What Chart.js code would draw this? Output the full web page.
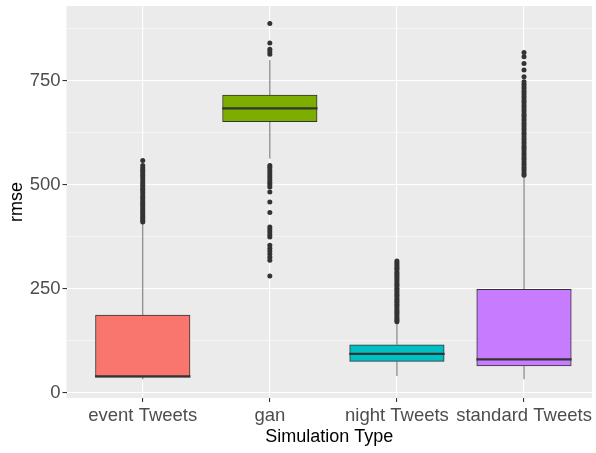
<!DOCTYPE html>
<html>
<head>
<meta charset="utf-8">
<script src="https://cdn.jsdelivr.net/npm/chart.js@4"></script>
<style>
  body { margin: 0; background: #fff; }
</style>
</head>
<body>
<canvas id="rmse-boxplot" width="596" height="453"></canvas>
<script>
const categories = ["event Tweets", "gan", "night Tweets", "standard Tweets"];
const fills = ["#F8766D", "#7CAE00", "#00BFC4", "#C77CFF"];

const q1 = [37, 651, 75, 64];
const medians = [39, 683, 93, 80];
const q3 = [186, 715, 115, 248];
const whiskerLow = [32, 562, 40, 32];
const whiskerHigh = [408, 799, 168, 518];

const eventOutliers = [410, 414, 419, 423, 428, 433, 437, 442, 447, 452, 456, 461, 466, 470, 475, 481,
  486, 490, 495, 500, 505, 511, 516, 521, 526, 531, 535, 540, 546, 558];
const ganOutliers = [887, 840, 825, 819, 813, 546, 541, 535, 529, 523, 517, 511, 505, 500, 494, 482,
  458, 433, 398, 392, 386, 379, 374, 354, 347, 340, 333, 325, 318, 280];
const nightOutliers = [170, 174, 178, 182, 187, 191, 195, 199, 204, 208, 212, 217, 221, 225, 230, 234,
  238, 243, 247, 251, 256, 260, 264, 269, 273, 277, 282, 286, 290, 295, 299, 303, 308, 312, 316];
const standardOutliers = [522, 527, 533, 538, 543, 549, 554, 560, 565, 571, 576, 582, 587, 592, 598,
  603, 609, 614, 620, 625, 631, 636, 642, 647, 653, 658, 664, 669, 675, 680, 686, 691, 697, 702, 708,
  713, 719, 724, 730, 735, 741, 747, 759, 775, 791, 807, 817];
const outliers = [eventOutliers, ganOutliers, nightOutliers, standardOutliers];

const yMajorTicks = [0, 250, 500, 750];
const yMinorTicks = [125, 375, 625, 875];

const HALF_BOX = 0.375;

// segments joined with nulls so the line breaks between them
const medianSegments = [];
const whiskerSegments = [];
categories.forEach((c, i) => {
  const x = i + 1;
  medianSegments.push({ x: x - HALF_BOX, y: medians[i] }, { x: x + HALF_BOX, y: medians[i] }, { x: x, y: null });
  whiskerSegments.push({ x: x, y: whiskerLow[i] }, { x: x, y: q1[i] }, { x: x, y: null });
  whiskerSegments.push({ x: x, y: q3[i] }, { x: x, y: whiskerHigh[i] }, { x: x, y: null });
});

const outlierPoints = [];
outliers.forEach((list, i) => list.forEach((v) => outlierPoints.push({ x: i + 1, y: v })));

const panelBackground = {
  id: "panelBackground",
  beforeDraw(chart) {
    const { ctx, chartArea } = chart;
    ctx.save();
    ctx.fillStyle = "#EBEBEB";
    ctx.fillRect(chartArea.left, chartArea.top, chartArea.right - chartArea.left, chartArea.bottom - chartArea.top);
    ctx.restore();
  },
};

new Chart(document.getElementById("rmse-boxplot"), {
  type: "bar",
  data: {
    datasets: [
      {
        type: "bar",
        label: "box",
        data: categories.map((c, i) => ({ x: i + 1, y: [q1[i], q3[i]] })),
        backgroundColor: fills,
        borderColor: "#333333",
        borderWidth: 1,
        borderSkipped: false,
        barThickness: 94.5,
        order: 3,
      },
      {
        type: "line",
        label: "median",
        data: medianSegments,
        borderColor: "#333333",
        borderWidth: 2.2,
        pointRadius: 0,
        spanGaps: false,
        order: 2,
      },
      {
        type: "line",
        label: "whisker",
        data: whiskerSegments,
        borderColor: "#6b6b6b",
        borderWidth: 1,
        pointRadius: 0,
        spanGaps: false,
        order: 4,
      },
      {
        type: "scatter",
        label: "outliers",
        data: outlierPoints,
        backgroundColor: "#333333",
        borderWidth: 0,
        pointRadius: 2.5,
        order: 1,
      },
    ],
  },
  options: {
    responsive: false,
    animation: false,
    devicePixelRatio: 1,
    layout: { padding: { top: 6, right: 0, bottom: 0, left: 0 } },
    plugins: {
      legend: { display: false },
      tooltip: { enabled: false },
    },
    scales: {
      x: {
        type: "linear",
        min: 0.4,
        max: 4.535,
        offset: false,
        afterBuildTicks(scale) {
          scale.ticks = categories.map((c, i) => ({ value: i + 1 }));
        },
        afterFit(scale) {
          scale.height = 55;
          scale.paddingLeft = 0;
          scale.paddingRight = 0;
        },
        ticks: {
          callback: (v) => categories[v - 1],
          color: "#4D4D4D",
          font: { family: "Liberation Sans", size: 18.5 },
          padding: 3,
          maxRotation: 0,
          autoSkip: false,
        },
        grid: { offset: false, color: "#FFFFFF", lineWidth: 1.1, tickColor: "#333333", tickLength: 4 },
        border: { display: false },
        title: {
          display: true,
          text: "Simulation Type",
          color: "#000000",
          font: { family: "Liberation Sans", size: 18 },
          padding: { top: 0, bottom: 5 },
        },
      },
      y: {
        min: -13,
        max: 929,
        afterBuildTicks(scale) {
          scale.ticks = yMajorTicks.concat(yMinorTicks).map((v) => ({ value: v }));
        },
        afterFit(scale) {
          scale.width = 66.5;
          scale.paddingTop = 0;
          scale.paddingBottom = 0;
        },
        ticks: {
          callback: (v) => (yMajorTicks.includes(v) ? String(v) : ""),
          color: "#4D4D4D",
          font: { family: "Liberation Sans", size: 18.5 },
          padding: 2,
          autoSkip: false,
        },
        grid: {
          color: "#FFFFFF",
          lineWidth: (ctx) => (ctx.tick && yMajorTicks.includes(ctx.tick.value) ? 1.1 : 0.55),
          tickColor: (ctx) => (ctx.tick && yMajorTicks.includes(ctx.tick.value) ? "#333333" : "rgba(0,0,0,0)"),
          tickLength: 4,
        },
        border: { display: false },
        title: {
          display: true,
          text: "rmse",
          color: "#000000",
          font: { family: "Liberation Sans", size: 18 },
          padding: { top: 6, bottom: 0 },
        },
      },
    },
  },
  plugins: [panelBackground],
});
</script>
</body>
</html>
